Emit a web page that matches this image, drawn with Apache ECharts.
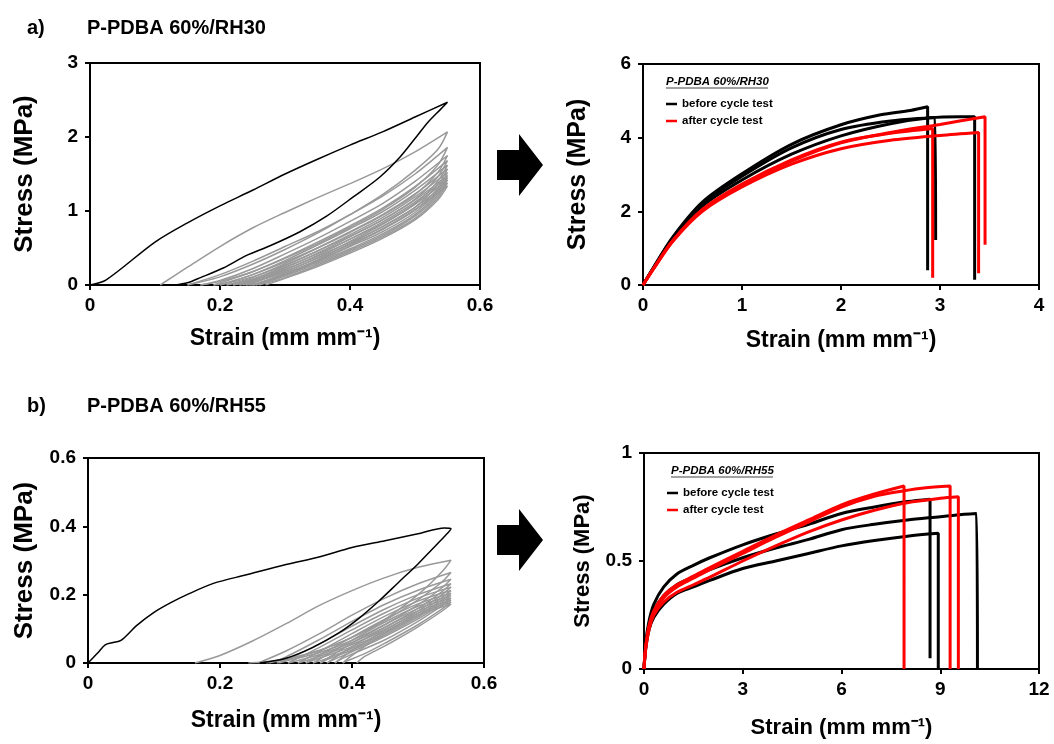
<!DOCTYPE html>
<html>
<head>
<meta charset="utf-8">
<script src="https://cdn.jsdelivr.net/npm/echarts@6/dist/echarts.min.js"></script>
<style>
  html, body { margin: 0; padding: 0; background: #fff; }
  #chart { width: 1054px; height: 744px; }
</style>
</head>
<body>
<div id="chart"></div>
<script>
// ---- Cyclic loading, RH30 (strain, stress) ----
const rh30FirstLoop = [
  [0,0],[0.025,0.07],[0.1,0.58],[0.15,0.84],[0.2,1.07],[0.25,1.28],[0.3,1.5],[0.35,1.7],[0.4,1.89],[0.45,2.07],[0.5,2.27],[0.55,2.47],
  [0.54,2.38],[0.52,2.2],[0.5,1.98],[0.477,1.73],[0.446,1.46],[0.405,1.19],[0.364,0.93],[0.323,0.72],[0.277,0.53],[0.241,0.4],[0.205,0.23],[0.17,0.1],[0.15,0.03],[0.13,0]
];
const rh30LaterLoops = [
  [[0.108,0],[0.15,0.24],[0.2,0.52],[0.25,0.77],[0.3,0.98],[0.35,1.18],[0.4,1.37],[0.45,1.57],[0.5,1.8],[0.55,2.07],
   [0.535,1.83],[0.5,1.55],[0.45,1.22],[0.4,0.95],[0.35,0.7],[0.3,0.48],[0.25,0.28],[0.2,0.11],[0.16,0.02],[0.15,0]],
  [[0.15,0],[0.2,0.14],[0.25,0.32],[0.3,0.52],[0.35,0.72],[0.4,0.95],[0.45,1.2],[0.5,1.5],[0.55,1.86],
   [0.535,1.62],[0.5,1.32],[0.45,1.02],[0.4,0.78],[0.35,0.56],[0.3,0.36],[0.25,0.18],[0.2,0.05],[0.17,0]],
  [[0.17,0],[0.2,0.06],[0.25,0.22],[0.3,0.42],[0.35,0.63],[0.4,0.86],[0.45,1.1],[0.5,1.4],[0.55,1.75],
   [0.535,1.52],[0.5,1.22],[0.45,0.94],[0.4,0.71],[0.35,0.5],[0.3,0.31],[0.25,0.14],[0.21,0.03],[0.19,0]],
  [[0.19,0],[0.25,0.18],[0.3,0.37],[0.35,0.58],[0.4,0.8],[0.45,1.04],[0.5,1.33],[0.55,1.68],
   [0.535,1.46],[0.5,1.16],[0.45,0.88],[0.4,0.66],[0.35,0.46],[0.3,0.27],[0.25,0.11],[0.2,0]],
  [[0.2,0],[0.25,0.14],[0.3,0.33],[0.35,0.54],[0.4,0.76],[0.45,0.99],[0.5,1.28],[0.55,1.62],
   [0.535,1.4],[0.5,1.1],[0.45,0.83],[0.4,0.62],[0.35,0.42],[0.3,0.24],[0.25,0.08],[0.21,0]],
  [[0.21,0],[0.25,0.1],[0.3,0.29],[0.35,0.5],[0.4,0.72],[0.45,0.95],[0.5,1.23],[0.55,1.57],
   [0.535,1.35],[0.5,1.05],[0.45,0.79],[0.4,0.58],[0.35,0.39],[0.3,0.21],[0.25,0.06],[0.22,0]],
  [[0.22,0],[0.25,0.07],[0.3,0.26],[0.35,0.46],[0.4,0.68],[0.45,0.91],[0.5,1.19],[0.55,1.52],
   [0.535,1.3],[0.5,1.01],[0.45,0.75],[0.4,0.55],[0.35,0.36],[0.3,0.18],[0.25,0.04],[0.23,0]],
  [[0.23,0],[0.25,0.05],[0.3,0.23],[0.35,0.43],[0.4,0.65],[0.45,0.88],[0.5,1.15],[0.55,1.48],
   [0.535,1.27],[0.5,0.98],[0.45,0.72],[0.4,0.52],[0.35,0.33],[0.3,0.16],[0.26,0.03],[0.24,0]],
  [[0.235,0],[0.25,0.03],[0.3,0.2],[0.35,0.4],[0.4,0.62],[0.45,0.85],[0.5,1.12],[0.55,1.45],
   [0.535,1.24],[0.5,0.95],[0.45,0.69],[0.4,0.49],[0.35,0.31],[0.3,0.14],[0.26,0.02],[0.245,0]],
  [[0.24,0],[0.3,0.18],[0.35,0.37],[0.4,0.59],[0.45,0.82],[0.5,1.09],[0.55,1.42],
   [0.535,1.21],[0.5,0.93],[0.45,0.67],[0.4,0.47],[0.35,0.29],[0.3,0.12],[0.26,0.01],[0.25,0]],
  [[0.25,0],[0.3,0.15],[0.35,0.34],[0.4,0.56],[0.45,0.79],[0.5,1.05],[0.55,1.38],
   [0.535,1.18],[0.5,0.9],[0.45,0.65],[0.4,0.45],[0.35,0.27],[0.3,0.1],[0.26,0]],
  [[0.255,0],[0.3,0.13],[0.35,0.32],[0.4,0.53],[0.45,0.76],[0.5,1.02],[0.55,1.34],
   [0.535,1.15],[0.5,0.88],[0.45,0.63],[0.4,0.43],[0.35,0.25],[0.3,0.09],[0.27,0]]
];

// ---- Tensile tests, RH30 ----
const rh30Before = [
  [[0,0],[0.1,0.45],[0.3,1.3],[0.6,2.25],[1,3.02],[1.5,3.82],[2,4.35],[2.4,4.62],[2.7,4.74],[2.875,4.84],[2.875,0.4]],
  [[0,0],[0.1,0.44],[0.3,1.27],[0.6,2.2],[1,2.95],[1.5,3.72],[2,4.22],[2.5,4.45],[2.95,4.55],[2.956,1.22]],
  [[0,0],[0.1,0.43],[0.3,1.24],[0.6,2.14],[1,2.85],[1.5,3.55],[2,4.05],[2.5,4.38],[2.9,4.54],[3.2,4.57],[3.35,4.57],[3.35,0.14]]
];
const rh30After = [
  [[0,0],[0.1,0.42],[0.3,1.2],[0.6,2.05],[1,2.74],[1.5,3.4],[2,3.88],[2.5,4.12],[2.926,4.25],[2.926,0.2]],
  [[0,0],[0.1,0.41],[0.3,1.18],[0.6,2.0],[1,2.66],[1.5,3.28],[2,3.7],[2.5,3.93],[3,4.06],[3.39,4.14],[3.39,0.32]],
  [[0,0],[0.1,0.42],[0.3,1.2],[0.6,2.04],[1,2.72],[1.5,3.36],[2,3.86],[2.5,4.14],[3,4.36],[3.455,4.57],[3.455,1.09]]
];

// ---- Cyclic loading, RH55 ----
const rh55FirstLoop = [
  [0,0],[0.015,0.03],[0.026,0.053],[0.038,0.06],[0.05,0.066],[0.074,0.11],[0.1,0.148],[0.124,0.175],[0.15,0.2],[0.19,0.233],[0.24,0.258],[0.3,0.288],[0.35,0.31],[0.4,0.338],[0.45,0.358],[0.5,0.378],[0.54,0.395],[0.55,0.393],
  [0.54,0.37],[0.52,0.33],[0.5,0.29],[0.47,0.235],[0.44,0.18],[0.41,0.13],[0.38,0.088],[0.34,0.045],[0.3,0.014],[0.26,0]
];
const rh55LaterLoops = [
  [[0.162,0],[0.2,0.022],[0.25,0.065],[0.3,0.115],[0.35,0.168],[0.4,0.212],[0.45,0.25],[0.5,0.28],[0.55,0.301],
   [0.54,0.275],[0.52,0.235],[0.5,0.2],[0.47,0.155],[0.44,0.115],[0.4,0.075],[0.35,0.037],[0.3,0.012],[0.26,0.002],[0.243,0]],
  [[0.258,0],[0.3,0.035],[0.35,0.085],[0.4,0.14],[0.45,0.19],[0.5,0.232],[0.55,0.265],
   [0.535,0.235],[0.5,0.185],[0.45,0.125],[0.4,0.075],[0.35,0.036],[0.3,0.01],[0.27,0]],
  [[0.275,0],[0.3,0.018],[0.35,0.068],[0.4,0.122],[0.45,0.172],[0.5,0.213],[0.55,0.245],
   [0.535,0.218],[0.5,0.17],[0.45,0.113],[0.4,0.066],[0.35,0.03],[0.3,0.006],[0.286,0]],
  [[0.29,0],[0.35,0.055],[0.4,0.108],[0.45,0.158],[0.5,0.2],[0.55,0.232],
   [0.535,0.207],[0.5,0.16],[0.45,0.105],[0.4,0.06],[0.35,0.024],[0.303,0]],
  [[0.303,0],[0.35,0.045],[0.4,0.097],[0.45,0.147],[0.5,0.19],[0.55,0.222],
   [0.535,0.198],[0.5,0.152],[0.45,0.098],[0.4,0.054],[0.35,0.019],[0.318,0]],
  [[0.318,0],[0.35,0.033],[0.4,0.086],[0.45,0.137],[0.5,0.181],[0.55,0.212],
   [0.535,0.19],[0.5,0.145],[0.45,0.092],[0.4,0.048],[0.35,0.014],[0.33,0]],
  [[0.33,0],[0.35,0.022],[0.4,0.076],[0.45,0.128],[0.5,0.173],[0.55,0.204],
   [0.535,0.183],[0.5,0.139],[0.45,0.087],[0.4,0.043],[0.36,0.012],[0.341,0]],
  [[0.341,0],[0.4,0.067],[0.45,0.12],[0.5,0.166],[0.55,0.197],
   [0.535,0.177],[0.5,0.134],[0.45,0.082],[0.4,0.038],[0.36,0.008],[0.352,0]],
  [[0.352,0],[0.4,0.058],[0.45,0.112],[0.5,0.159],[0.55,0.19],
   [0.535,0.171],[0.5,0.129],[0.45,0.078],[0.4,0.033],[0.37,0.008],[0.362,0]],
  [[0.362,0],[0.4,0.048],[0.45,0.104],[0.5,0.152],[0.55,0.184],
   [0.535,0.166],[0.5,0.122],[0.45,0.068],[0.4,0.026],[0.38,0.008],[0.374,0]],
  [[0.374,0],[0.4,0.036],[0.45,0.096],[0.5,0.146],[0.55,0.178],
   [0.535,0.156],[0.5,0.112],[0.45,0.058],[0.42,0.028],[0.39,0.004],[0.386,0]],
  [[0.386,0],[0.4,0.022],[0.45,0.088],[0.5,0.14],[0.55,0.172],
   [0.535,0.15],[0.5,0.106],[0.45,0.05],[0.42,0.02],[0.407,0]]
];

// ---- Tensile tests, RH55 ----
const rh55Before = [
  [[0,0],[0.05,0.12],[0.15,0.22],[0.3,0.3],[0.6,0.38],[1,0.44],[1.5,0.48],[2,0.515],[3,0.575],[4,0.625],[5,0.67],[6,0.72],[7,0.75],[8,0.775],[8.69,0.786],[8.69,0.05]],
  [[0,0],[0.05,0.09],[0.15,0.18],[0.3,0.24],[0.6,0.3],[1,0.35],[1.5,0.38],[2,0.41],[3,0.465],[4,0.5],[5,0.535],[6,0.57],[7,0.595],[8,0.615],[8.94,0.628],[8.94,0]],
  [[0,0],[0.05,0.1],[0.15,0.2],[0.3,0.27],[0.6,0.34],[1,0.39],[1.5,0.425],[2,0.46],[3,0.515],[4,0.56],[5,0.6],[6,0.645],[7,0.67],[8,0.69],[9,0.705],[9.5,0.713],[10.1,0.72],[10.13,0]]
];
const rh55After = [
  [[0,0],[0.05,0.1],[0.15,0.2],[0.3,0.27],[0.6,0.34],[1,0.39],[1.5,0.43],[2,0.47],[3,0.545],[4,0.62],[5,0.69],[6,0.76],[7,0.81],[7.9,0.847],[7.9,0]],
  [[0,0],[0.05,0.1],[0.15,0.19],[0.3,0.26],[0.6,0.33],[1,0.38],[1.5,0.42],[2,0.46],[3,0.535],[4,0.61],[5,0.68],[6,0.75],[7,0.8],[7.9,0.825],[8.5,0.838],[9.3,0.847],[9.3,0]],
  [[0,0],[0.05,0.09],[0.15,0.18],[0.3,0.25],[0.6,0.31],[1,0.355],[1.5,0.39],[2,0.425],[3,0.5],[4,0.57],[5,0.635],[6,0.69],[7,0.735],[8,0.77],[9,0.79],[9.55,0.797],[9.55,0]]
];

// ---- Axis ranges and labels ----
const panelTitles = ['P-PDBA 60%/RH30', 'P-PDBA 60%/RH55'];
const legendNames = ['before cycle test', 'after cycle test'];
const xTitle = 'Strain (mm mm\u207B\u00B9)';
const yTitle = 'Stress (MPa)';
const xRanges = [[0, 0.6, 0.2], [0, 4, 1], [0, 0.6, 0.2], [0, 12, 3]];
const yRanges = [[0, 3, 1], [0, 6, 2], [0, 0.6, 0.2], [0, 1, 0.5]];

const FONT = '"Liberation Sans", Arial, Helvetica, sans-serif';
const grids = [
  { left: 90, top: 63, width: 390, height: 222 },
  { left: 643, top: 64, width: 396, height: 221 },
  { left: 88, top: 458, width: 396, height: 205 },
  { left: 644, top: 453, width: 395, height: 216 }
];
const xNameGap = [42, 44, 46, 48];
const yNameGap = [52, 52, 50, 50];
const yNameSize = [26, 25, 26, 22];
const xNameSize = [23, 23, 23, 22];

function fmt(v) { return String(Math.round(v * 100) / 100); }

const xAxes = xRanges.map((r, i) => ({
  type: 'value', gridIndex: i, min: r[0], max: r[1], interval: r[2],
  name: xTitle, nameLocation: 'middle', nameGap: xNameGap[i],
  nameTextStyle: { fontFamily: FONT, fontWeight: 'bold', fontSize: xNameSize[i], color: '#000' },
  axisLine: { show: true, onZero: false, lineStyle: { color: '#000', width: 2 } },
  axisTick: { show: true, inside: false, length: 5, lineStyle: { color: '#000', width: 2 } },
  axisLabel: { margin: 11, fontFamily: FONT, fontWeight: 'bold', fontSize: 19, color: '#000', formatter: fmt },
  splitLine: { show: false }
}));
const yAxes = yRanges.map((r, i) => ({
  type: 'value', gridIndex: i, min: r[0], max: r[1], interval: r[2],
  name: yTitle, nameLocation: 'middle', nameGap: yNameGap[i],
  nameTextStyle: { fontFamily: FONT, fontWeight: 'bold', fontSize: yNameSize[i], color: '#000' },
  axisLine: { show: true, onZero: false, lineStyle: { color: '#000', width: 2 } },
  axisTick: { show: true, inside: false, length: 5, lineStyle: { color: '#000', width: 2 } },
  axisLabel: { margin: 12, fontFamily: FONT, fontWeight: 'bold', fontSize: 19, color: '#000', formatter: fmt },
  splitLine: { show: false }
}));

function lineSeries(name, idx, data, color, width, z) {
  return {
    type: 'line', name: name, xAxisIndex: idx, yAxisIndex: idx, data: data,
    showSymbol: false, symbol: 'none', smooth: 0.3, animation: false, z: z,
    lineStyle: { color: color, width: width }, itemStyle: { color: color },
    emphasis: { disabled: true }
  };
}

const series = [];
rh30LaterLoops.forEach(d => series.push(lineSeries('cycles', 0, d, '#999999', 1.5, 2)));
series.push(lineSeries('first cycle', 0, rh30FirstLoop, '#000000', 1.5, 3));
rh30Before.forEach(d => series.push(lineSeries(legendNames[0], 1, d, '#000000', 3, 2)));
rh30After.forEach(d => series.push(lineSeries(legendNames[1], 1, d, '#ff0000', 3, 3)));
rh55LaterLoops.forEach(d => series.push(lineSeries('cycles', 2, d, '#999999', 1.5, 2)));
series.push(lineSeries('first cycle', 2, rh55FirstLoop, '#000000', 1.5, 3));
rh55Before.forEach(d => series.push(lineSeries(legendNames[0], 3, d, '#000000', 3, 2)));
rh55After.forEach(d => series.push(lineSeries(legendNames[1], 3, d, '#ff0000', 3, 3)));

const legendStyle = {
  orient: 'vertical', data: legendNames, icon: 'rect', itemWidth: 11, itemHeight: 2.5, itemGap: 3,
  selectedMode: false,
  textStyle: { fontFamily: FONT, fontWeight: 'bold', fontSize: 11.5, color: '#000', lineHeight: 14 }
};

function arrow(cx, cy) {
  // block arrow pointing right, centred vertically on cy
  return {
    type: 'polygon', silent: true,
    shape: { points: [[cx - 24, cy - 15], [cx - 2, cy - 15], [cx - 2, cy - 31], [cx + 22, cy], [cx - 2, cy + 31], [cx - 2, cy + 15], [cx - 24, cy + 15]] },
    style: { fill: '#000' }
  };
}
function legendHeader(x, y, text, w) {
  return [
    { type: 'text', silent: true, x: x, y: y,
      style: { text: text, fontFamily: FONT, fontStyle: 'italic', fontWeight: 'bold', fontSize: 11.5, fill: '#000', textVerticalAlign: 'top' } },
    { type: 'line', silent: true, shape: { x1: x, y1: y + 12, x2: x + w, y2: y + 12 }, style: { stroke: '#444', lineWidth: 1 } }
  ];
}

const titleStyle = { fontFamily: FONT, fontWeight: 'bold', fontSize: 20, color: '#000' };

const option = {
  backgroundColor: '#fff',
  animation: false,
  title: [
    { text: 'a)', left: 22, top: 13, textStyle: titleStyle },
    { text: panelTitles[0], left: 82, top: 13, textStyle: titleStyle },
    { text: 'b)', left: 22, top: 391, textStyle: titleStyle },
    { text: panelTitles[1], left: 82, top: 391, textStyle: titleStyle }
  ],
  legend: [
    Object.assign({ left: 661, top: 92 }, legendStyle),
    Object.assign({ left: 662, top: 481 }, legendStyle)
  ],
  grid: grids.map(g => Object.assign({ show: true, borderColor: '#000', borderWidth: 2, backgroundColor: 'transparent' }, g)),
  xAxis: xAxes,
  yAxis: yAxes,
  series: series,
  graphic: [
    arrow(521, 165),
    arrow(521, 540)
  ].concat(legendHeader(666, 76, panelTitles[0], 102), legendHeader(671, 465, panelTitles[1], 102))
};

const chart = echarts.init(document.getElementById('chart'), null, { renderer: 'canvas' });
chart.setOption(option);
</script>
</body>
</html>
